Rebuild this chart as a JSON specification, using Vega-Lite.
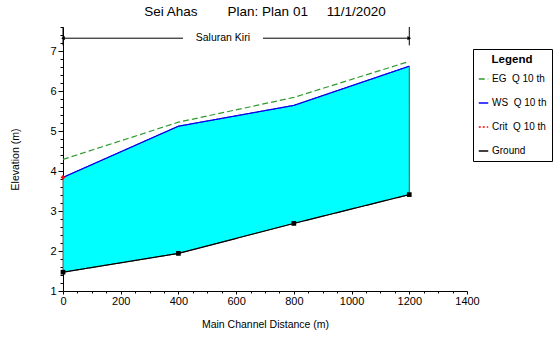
{
  "$schema": "https://vega.github.io/schema/vega-lite/v6.json",
  "width": 404,
  "height": 264,
  "autosize": "none",
  "padding": {"left": 63, "top": 27, "right": 86, "bottom": 47},
  "background": "white",
  "config": {"font": "Liberation Sans", "view": {"stroke": null}},
  "title": {
    "text": "Sei Ahas\u00a0\u00a0\u00a0\u00a0\u00a0\u00a0\u00a0\u00a0Plan: Plan 01\u00a0\u00a0\u00a0\u00a0\u00a011/1/2020",
    "fontSize": 13.5,
    "fontWeight": "normal",
    "anchor": "middle",
    "offset": 3,
    "color": "black"
  },
  "datasets": {
    "stations": [
      {"x": 0, "ground": 1.47, "ws": 3.84},
      {"x": 400, "ground": 1.94, "ws": 5.12},
      {"x": 800, "ground": 2.69, "ws": 5.64},
      {"x": 1200, "ground": 3.41, "ws": 6.62}
    ],
    "lines": [
      {"x": 0, "series": "EG\u00a0\u00a0Q 10 th", "elev": 4.29},
      {"x": 400, "series": "EG\u00a0\u00a0Q 10 th", "elev": 5.22},
      {"x": 800, "series": "EG\u00a0\u00a0Q 10 th", "elev": 5.84},
      {"x": 1200, "series": "EG\u00a0\u00a0Q 10 th", "elev": 6.74},
      {"x": 0, "series": "WS\u00a0\u00a0Q 10 th", "elev": 3.84},
      {"x": 400, "series": "WS\u00a0\u00a0Q 10 th", "elev": 5.12},
      {"x": 800, "series": "WS\u00a0\u00a0Q 10 th", "elev": 5.64},
      {"x": 1200, "series": "WS\u00a0\u00a0Q 10 th", "elev": 6.62},
      {"x": 0, "series": "Crit\u00a0\u00a0Q 10 th", "elev": 3.84},
      {"x": 0, "series": "Ground", "elev": 1.47},
      {"x": 400, "series": "Ground", "elev": 1.94},
      {"x": 800, "series": "Ground", "elev": 2.69},
      {"x": 1200, "series": "Ground", "elev": 3.41}
    ],
    "reach": [
      {"x": 0, "x2": 416, "y": 7.32},
      {"x": 693, "x2": 1200, "y": 7.32}
    ],
    "bounds": [
      {"x": 0, "y": 7.14, "y2": 7.6, "dir": "left"},
      {"x": 1200, "y": 7.14, "y2": 7.6, "dir": "right"}
    ],
    "label": [{"x": 554, "y": 7.32, "text": "Saluran Kiri"}]
  },
  "encoding": {
    "x": {
      "type": "quantitative",
      "scale": {"domain": [0, 1400], "nice": false},
      "axis": {
        "title": "Main Channel Distance (m)",
        "values": [0,50,100,150,200,250,300,350,400,450,500,550,600,650,700,750,800,850,900,950,1000,1050,1100,1150,1200,1250,1300,1350,1400],
        "labelExpr": "datum.value % 200 === 0 ? format(datum.value, 'd') : ''",
        "tickSize": {"condition": {"test": "datum.value % 200 === 0", "value": 3}, "value": 2},
        "grid": false,
        "labelFlush": false,
        "labelOverlap": false,
        "labelPadding": 1,
        "labelFontSize": 11,
        "labelColor": "black",
        "domainColor": "black",
        "tickColor": "black",
        "titleFontSize": 10.5,
        "titleFontWeight": "normal",
        "titleColor": "black",
        "titlePadding": 13
      }
    },
    "y": {
      "type": "quantitative",
      "scale": {"domain": [1, 7.6], "nice": false, "zero": false},
      "axis": {
        "title": "Elevation (m)",
        "values": [1,1.2,1.4,1.6,1.8,2,2.2,2.4,2.6,2.8,3,3.2,3.4,3.6,3.8,4,4.2,4.4,4.6,4.8,5,5.2,5.4,5.6,5.8,6,6.2,6.4,6.6,6.8,7,7.2,7.4,7.6],
        "labelExpr": "datum.value % 1 === 0 ? format(datum.value, 'd') : ''",
        "tickSize": {"condition": {"test": "datum.value % 1 === 0", "value": 5}, "value": 3},
        "grid": false,
        "labelOverlap": false,
        "labelPadding": 2,
        "labelFontSize": 11,
        "labelColor": "black",
        "domainColor": "black",
        "tickColor": "black",
        "titleFontSize": 10.5,
        "titleFontWeight": "normal",
        "titleColor": "black",
        "titlePadding": 29
      }
    }
  },
  "layer": [
    {
      "data": {"name": "stations"},
      "mark": {"type": "area", "color": "#00FFFF", "stroke": "#555555", "strokeWidth": 1, "opacity": 1},
      "encoding": {
        "x": {"field": "x"},
        "y": {"field": "ws"},
        "y2": {"field": "ground"}
      }
    },
    {
      "data": {"name": "lines"},
      "mark": {"type": "line", "strokeWidth": 1.2},
      "encoding": {
        "x": {"field": "x"},
        "y": {"field": "elev"},
        "color": {
          "field": "series",
          "type": "nominal",
          "scale": {
            "domain": ["EG\u00a0\u00a0Q 10 th", "WS\u00a0\u00a0Q 10 th", "Crit\u00a0\u00a0Q 10 th", "Ground"],
            "range": ["#2E9A2E", "#0000FF", "#FF0000", "#000000"]
          },
          "legend": {
            "title": "Legend",
            "orient": "none",
            "legendX": 410,
            "legendY": 22,
            "titleAnchor": "middle",
            "titleFontWeight": "bold",
            "titleFontSize": 11.5,
            "titleColor": "black",
            "titlePadding": 8,
            "labelFontSize": 10,
            "labelColor": "black",
            "labelOffset": 3,
            "symbolType": "stroke",
            "symbolSize": 90,
            "symbolStrokeWidth": 1.5,
            "strokeColor": "black",
            "fillColor": "white",
            "padding": 5,
            "rowPadding": 13
          }
        },
        "strokeDash": {
          "field": "series",
          "type": "nominal",
          "scale": {
            "domain": ["EG\u00a0\u00a0Q 10 th", "WS\u00a0\u00a0Q 10 th", "Crit\u00a0\u00a0Q 10 th", "Ground"],
            "range": [[6, 3], [1, 0], [2, 2], [1, 0]]
          },
          "legend": {"title": "Legend"}
        }
      }
    },
    {
      "data": {"name": "stations"},
      "mark": {"type": "point", "shape": "square", "filled": true, "color": "black", "size": 22, "opacity": 1},
      "encoding": {"x": {"field": "x"}, "y": {"field": "ground"}}
    },
    {
      "data": {"name": "lines"},
      "transform": [{"filter": "datum.series === 'Crit\u00a0\u00a0Q 10 th'"}],
      "mark": {"type": "point", "shape": "cross", "filled": true, "color": "#FF0000", "size": 18, "opacity": 1},
      "encoding": {"x": {"field": "x"}, "y": {"field": "elev"}}
    },
    {
      "data": {"name": "reach"},
      "mark": {"type": "rule", "color": "black", "strokeWidth": 1, "clip": false},
      "encoding": {"x": {"field": "x"}, "x2": {"field": "x2"}, "y": {"field": "y"}}
    },
    {
      "data": {"name": "bounds"},
      "mark": {"type": "rule", "color": "black", "strokeWidth": 1, "clip": false},
      "encoding": {"x": {"field": "x"}, "y": {"field": "y"}, "y2": {"field": "y2"}}
    },
    {
      "data": {"name": "bounds"},
      "mark": {"type": "point", "filled": true, "color": "black", "size": 18, "opacity": 1},
      "encoding": {
        "x": {"field": "x"},
        "y": {"datum": 7.32},
        "shape": {
          "field": "dir",
          "type": "nominal",
          "scale": {"domain": ["left", "right"], "range": ["triangle-left", "triangle-right"]},
          "legend": null
        }
      }
    },
    {
      "data": {"name": "label"},
      "mark": {"type": "text", "fontSize": 10.5, "color": "black", "baseline": "middle", "align": "center"},
      "encoding": {"x": {"field": "x"}, "y": {"field": "y"}, "text": {"field": "text"}}
    }
  ]
}
